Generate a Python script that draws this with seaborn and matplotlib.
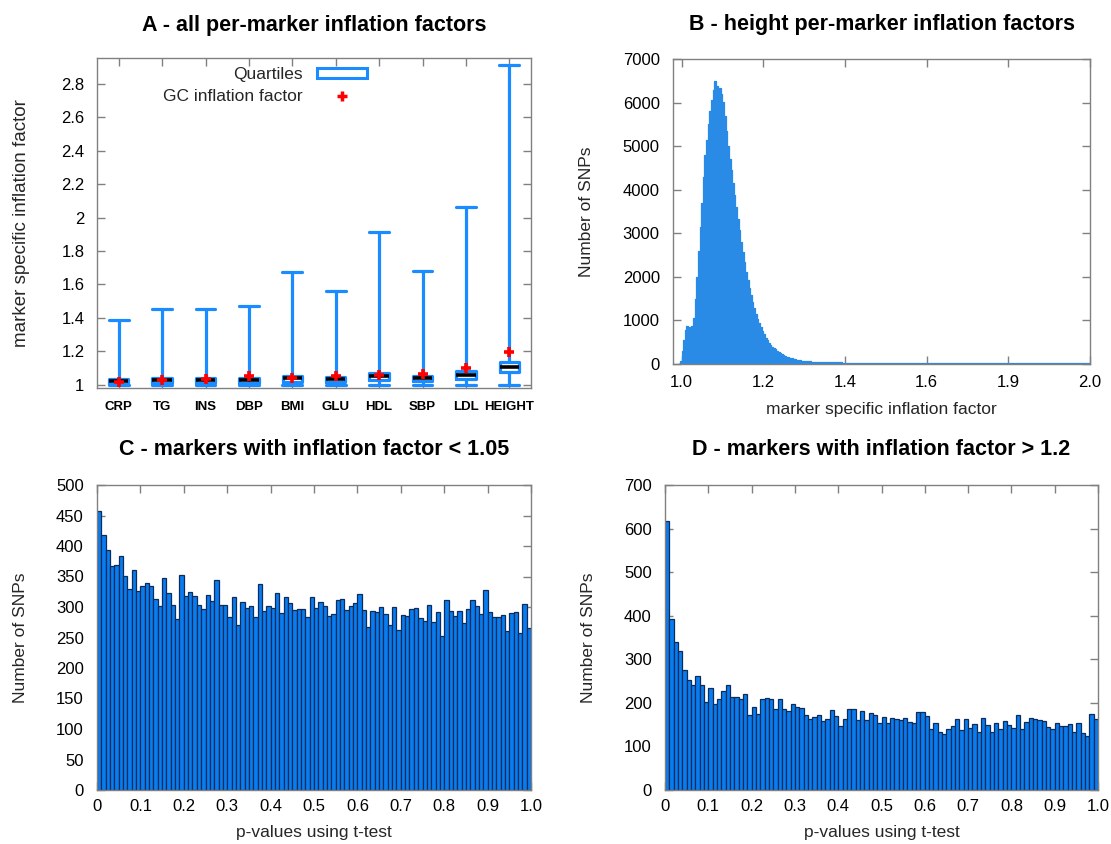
import numpy as np
import pandas as pd
import matplotlib
matplotlib.use("Agg")
import matplotlib.pyplot as plt
import seaborn as sns
from matplotlib.patches import Rectangle
from matplotlib.lines import Line2D

sns.set_theme(style="white")
plt.rcParams["font.family"] = ["Liberation Sans", "DejaVu Sans"]

# ---------------- Panel A: per-trait summaries of marker-specific inflation factors
traits = ["CRP", "TG", "INS", "DBP", "BMI", "GLU", "HDL", "SBP", "LDL", "HEIGHT"]
infl_min = [0.998, 0.998, 0.998, 0.998, 0.998, 0.998, 0.998, 0.998, 0.998, 0.998]
infl_q1 = [1.005, 1.008, 1.008, 1.010, 1.018, 1.015, 1.028, 1.020, 1.035, 1.074]
infl_median = [1.020, 1.025, 1.025, 1.027, 1.037, 1.032, 1.050, 1.038, 1.056, 1.107]
infl_q3 = [1.035, 1.038, 1.038, 1.042, 1.053, 1.047, 1.070, 1.053, 1.080, 1.138]
infl_max = [1.385, 1.452, 1.452, 1.470, 1.677, 1.562, 1.911, 1.683, 2.066, 2.911]
gc_lambda = [1.013, 1.030, 1.036, 1.050, 1.038, 1.050, 1.060, 1.066, 1.098, 1.196]

# ---------------- Panel B: histogram of height per-marker inflation factors
b_start = 0.992
b_width_fine = 0.004
b_counts_fine = [
    0, 60, 300, 560, 780, 870, 840, 810, 880, 1050,
    1500, 2000, 2600, 3150, 3700, 4300, 4800, 5150, 5500, 5800,
    6050, 6300, 6490, 6380, 6250, 6340, 6200, 6020, 5700, 5350,
    5000, 4700, 4450, 4150, 3880, 3600, 3330, 3080, 2800, 2560,
    2330, 2120, 1930, 1750, 1580, 1420, 1280, 1150, 1040, 940,
    850, 760, 680, 600, 540, 480, 430, 390, 360, 340,
    300, 270, 245, 220, 200, 185, 170, 155, 140, 130,
    120, 110, 100, 92, 85, 80, 74, 68, 64, 61,
    58, 56, 53, 51, 50, 48, 46, 45, 44, 42,
    41, 40, 40, 39, 38, 37, 37, 36, 35, 35,
    34, 33,
]
b_width_tail = 0.02
b_counts_tail = [
    32, 30, 29, 28, 27, 27, 26, 25, 25, 24,
    23, 23, 22, 22, 21, 21, 20, 20, 19, 19,
    19, 18, 18, 17, 17, 17, 16, 16, 15, 15,
]
b_xticks = [1.0, 1.2, 1.4, 1.6, 1.8, 2.0]
b_xticklabels = ["1.0", "1.2", "1.4", "1.6", "1.9", "2.0"]

# ---------------- Panels C and D: p-value histograms (100 bins over [0, 1])
p_low_counts = [
    457, 418, 393, 367, 369, 383, 351, 330, 360, 327,
    335, 340, 334, 313, 302, 348, 323, 304, 281, 352,
    318, 325, 318, 304, 297, 320, 310, 345, 303, 303,
    284, 316, 270, 308, 299, 302, 283, 337, 293, 302,
    299, 323, 290, 317, 307, 295, 296, 296, 284, 316,
    298, 308, 302, 285, 288, 311, 313, 295, 302, 306,
    322, 295, 268, 293, 292, 300, 289, 271, 300, 263,
    287, 286, 296, 298, 282, 277, 304, 276, 292, 252,
    311, 293, 286, 294, 274, 296, 312, 302, 289, 328,
    292, 284, 284, 287, 261, 290, 292, 258, 305, 266,
]
p_high_counts = [
    617, 392, 339, 318, 276, 252, 241, 261, 240, 202,
    234, 198, 210, 228, 242, 213, 213, 210, 220, 171,
    190, 175, 209, 211, 209, 185, 210, 187, 182, 197,
    191, 189, 172, 162, 167, 172, 159, 163, 184, 169,
    146, 162, 186, 185, 161, 181, 161, 177, 172, 153,
    167, 154, 166, 163, 161, 166, 156, 153, 179, 179,
    169, 139, 154, 132, 129, 139, 147, 162, 138, 163,
    143, 152, 133, 166, 150, 134, 153, 141, 159, 150,
    142, 172, 140, 156, 166, 162, 160, 159, 145, 139,
    153, 147, 148, 152, 133, 153, 130, 123, 175, 163,
]
p_xticks = [0, 0.1, 0.2, 0.3, 0.4, 0.5, 0.6, 0.7, 0.8, 0.9, 1.0]
p_xticklabels = ["0", "0.1", "0.2", "0.3", "0.4", "0.5", "0.6", "0.7", "0.8", "0.9", "1.0"]

# ---------------- styling
box_blue = "#1a8cff"
bar_face = "#0a7cf2"
bar_edge = "#0c2d58"
hist_blue = "#2a8be6"
frame_grey = "#808080"
TITLE_FS = 15.5
LABEL_FS = 12.5
TICK_FS = 12

W, H = 1111, 844
fig = plt.figure(figsize=(W / 100, H / 100), dpi=100)


def px_axes(left, top, right, bottom):
    return fig.add_axes([left / W, 1 - bottom / H, (right - left) / W, (bottom - top) / H])


axA = px_axes(97, 58, 531, 388)
axB = px_axes(673, 59, 1090, 364)
axC = px_axes(97, 485, 531, 790)
axD = px_axes(665, 485, 1098, 790)


def frame(ax):
    for sp in ax.spines.values():
        sp.set_color(frame_grey)
        sp.set_linewidth(1.0)
        sp.set_visible(True)
    ax.tick_params(direction="in", length=6, width=1, color=frame_grey,
                   top=True, right=True, bottom=True, left=True,
                   labelcolor="black", labelsize=TICK_FS)
    ax.tick_params(axis="y", pad=9.5)
    ax.tick_params(axis="x", pad=6.5)


def title(ax, text, yfrac):
    ax.text(0.5, yfrac, text, transform=ax.transAxes, ha="center", va="center",
            fontsize=TITLE_FS, fontweight="bold", color="black")


# ---- A
df_a = pd.DataFrame({
    "trait": np.repeat(traits, 5),
    "factor": np.column_stack([infl_min, infl_q1, infl_median, infl_q3, infl_max]).ravel(),
})
sns.boxplot(data=df_a, x="trait", y="factor", order=traits, whis=(0, 100),
            width=0.45, fill=False, color=box_blue, linewidth=2.3, showfliers=False,
            medianprops=dict(color="black", linewidth=2.6), capwidths=0.46, ax=axA)
df_gc = pd.DataFrame({"pos": np.arange(len(traits)), "gc": gc_lambda})
sns.scatterplot(data=df_gc, x="pos", y="gc", marker="+", s=60,
                color="red", linewidth=2.6, legend=False, zorder=6, ax=axA)
axA.set_xlim(-0.5, len(traits) - 0.5)
axA.set_ylim(0.98, 2.955)
a_yticks = [1.0, 1.2, 1.4, 1.6, 1.8, 2.0, 2.2, 2.4, 2.6, 2.8]
axA.set_yticks(a_yticks)
axA.set_yticklabels([f"{v:g}" for v in a_yticks])
axA.set_xticks(np.arange(len(traits)))
axA.set_xticklabels(traits)
frame(axA)
axA.tick_params(axis="y", labelsize=12, pad=9)
axA.tick_params(axis="x", labelsize=9.5, pad=9)
for lbl in axA.get_xticklabels():
    lbl.set_fontweight("bold")
axA.set_xlabel("")
axA.set_ylabel("marker specific inflation factor", fontsize=13.5)
axA.yaxis.set_label_coords(-0.155, 0.5)
title(axA, "A - all per-marker inflation factors", 1.10)
handles = [Rectangle((0, 0), 1, 1, facecolor="white", edgecolor=box_blue, linewidth=2.2),
           Line2D([], [], marker="+", color="red", linestyle="none", markersize=7.5, mew=2.5)]
axA.legend(handles, ["Quartiles", "GC inflation factor"], loc="upper right",
           bbox_to_anchor=(0.63, 0.982), frameon=False, markerfirst=False,
           fontsize=LABEL_FS, handlelength=2.9, handleheight=0.5, labelspacing=0.4,
           handletextpad=0.8, borderaxespad=0.1, borderpad=0.1)

# ---- B
b_edges_fine = b_start + b_width_fine * np.arange(len(b_counts_fine) + 1)
b_edges_tail = b_edges_fine[-1] + b_width_tail * np.arange(1, len(b_counts_tail) + 1)
b_edges = np.concatenate([b_edges_fine, b_edges_tail])
df_b = pd.DataFrame({
    "factor": (b_edges[:-1] + b_edges[1:]) / 2,
    "snps": b_counts_fine + b_counts_tail,
})
sns.histplot(data=df_b, x="factor", weights="snps", bins=b_edges.tolist(), element="step",
             fill=True, color=hist_blue, alpha=1.0, linewidth=0.9, edgecolor=hist_blue, ax=axB)
axB.set_xlim(0.979, 2.0)
axB.set_ylim(0, 7000)
axB.set_xticks(b_xticks)
axB.set_xticklabels(b_xticklabels)
axB.set_yticks(range(0, 7001, 1000))
frame(axB)
axB.tick_params(axis="x", pad=8)
axB.set_xlabel("marker specific inflation factor", fontsize=LABEL_FS)
axB.set_ylabel("Number of SNPs", fontsize=LABEL_FS)
axB.xaxis.set_label_coords(0.5, -0.125)
axB.yaxis.set_label_coords(-0.19, 0.5)
title(axB, "B - height per-marker inflation factors", 1.112)

# ---- C and D
p_edges = np.linspace(0, 1, len(p_low_counts) + 1)
p_centers = (p_edges[:-1] + p_edges[1:]) / 2
for ax, counts, ymax, ystep, ttl in [
    (axC, p_low_counts, 500, 50, "C - markers with inflation factor < 1.05"),
    (axD, p_high_counts, 700, 100, "D - markers with inflation factor > 1.2"),
]:
    df_p = pd.DataFrame({"pval": p_centers, "snps": counts})
    sns.histplot(data=df_p, x="pval", weights="snps", bins=p_edges.tolist(), color=bar_face,
                 alpha=1.0, edgecolor=bar_edge, linewidth=0.9, ax=ax)
    ax.set_xlim(0, 1)
    ax.set_ylim(0, ymax)
    ax.set_xticks(p_xticks)
    ax.set_xticklabels(p_xticklabels)
    ax.set_yticks(range(0, ymax + 1, ystep))
    frame(ax)
    ax.set_xlabel("p-values using t-test", fontsize=LABEL_FS)
    ax.set_ylabel("Number of SNPs", fontsize=LABEL_FS)
    ax.xaxis.set_label_coords(0.5, -0.115)
    ax.yaxis.set_label_coords(-0.16, 0.5)
    title(ax, ttl, 1.118)

fig.savefig("out.png", dpi=100, facecolor="white")
